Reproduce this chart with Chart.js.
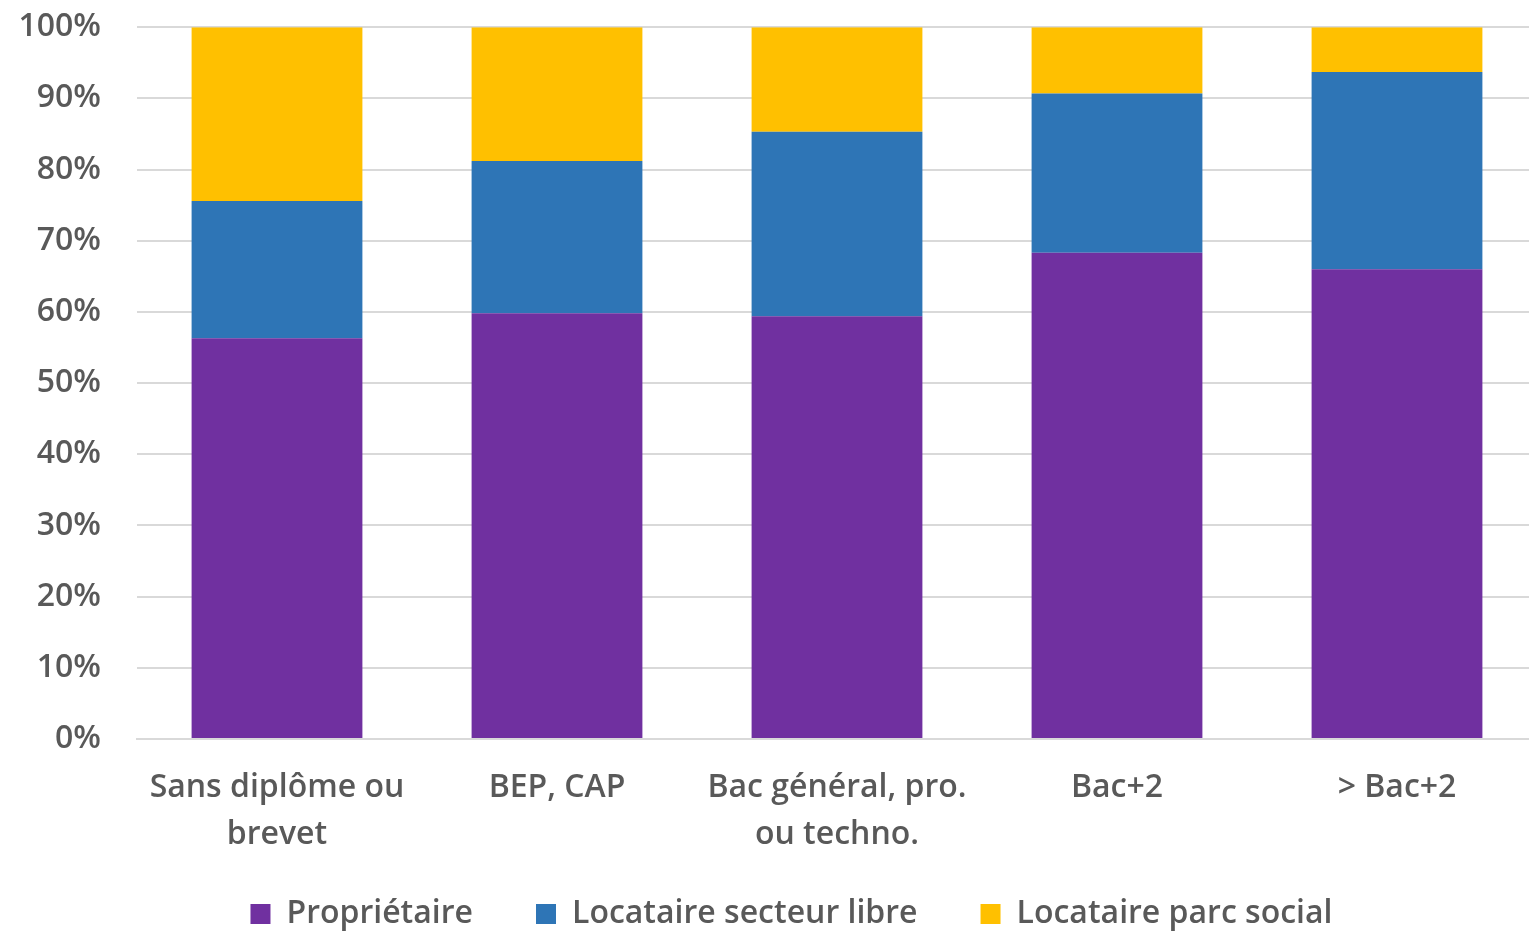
<!DOCTYPE html>
<html>
<head>
<meta charset="utf-8">
<script src="https://cdn.jsdelivr.net/npm/chart.js@4"></script>
<style>
  html, body { margin: 0; padding: 0; background: #fff; overflow: hidden; }
  #wrap { width: 1529px; height: 934px; overflow: hidden; }
  #logementChart { display: block; margin-top: -28px; }
</style>
</head>
<body>
<div id="wrap"><canvas id="logementChart" width="1538" height="968"></canvas></div>
<script>
const categories = [['Sans diplôme ou', 'brevet'], 'BEP, CAP', ['Bac général, pro.', 'ou techno.'], 'Bac+2', '> Bac+2'];
const proprietaire = [56.3, 59.8, 59.4, 68.3, 66.0];
const locataireLibre = [19.3, 21.4, 25.9, 22.4, 27.7];
const locataireSocial = [24.4, 18.8, 14.7, 9.3, 6.3];
const yTicks = [0, 10, 20, 30, 40, 50, 60, 70, 80, 90, 100];

const textColor = '#595959';
const fontFamily = '"Open Sans", Lato, sans-serif';

const ctx = document.getElementById('logementChart').getContext('2d');

// pas de découpe des libellés à la boîte de l'axe
const noLabelClip = (scale) => { scale._computeLabelArea = () => undefined; };

new Chart(ctx, {
    type: 'bar',
    data: {
        labels: categories,
        datasets: [
            { label: 'Propriétaire', data: proprietaire, backgroundColor: '#7030A0' },
            { label: 'Locataire secteur libre', data: locataireLibre, backgroundColor: '#2E75B6' },
            { label: 'Locataire parc social', data: locataireSocial, backgroundColor: '#FFC000' },
        ],
    },
    options: {
        responsive: false,
        animation: false,
        layout: { padding: { top: 0, right: 1, left: 46, bottom: 0 } },
        datasets: {
            bar: { categoryPercentage: 1, barPercentage: 0.61 },
        },
        scales: {
            x: {
                stacked: true,
                grid: { display: false, drawTicks: false },
                border: { color: '#d9d9d9', width: 2 },
                afterFit: (scale) => { scale.height = 96; noLabelClip(scale); },
                ticks: {
                    color: textColor,
                    font: { family: fontFamily, size: 32, weight: '600', lineHeight: 1.45 },
                    padding: 26,
                    maxRotation: 0,
                    autoSkip: false,
                },
            },
            y: {
                stacked: true,
                min: 0,
                max: 100,
                afterFit: (scale) => { scale.width = 91; noLabelClip(scale); },
                afterBuildTicks: (scale) => { scale.ticks = yTicks.map(v => ({ value: v })); },
                grid: { color: '#d9d9d9', lineWidth: 2, drawTicks: false },
                border: { display: false },
                ticks: {
                    color: textColor,
                    font: { family: fontFamily, size: 32, weight: '600' },
                    padding: 36,
                    callback: (v) => v + '%',
                },
            },
        },
        plugins: {
            legend: {
                position: 'bottom',
                labels: {
                    color: textColor,
                    font: { family: fontFamily, size: 32, weight: '600' },
                    boxWidth: 20,
                    boxHeight: 20,
                    padding: 63,
                },
            },
            tooltip: { enabled: false },
        },
    },
});
</script>
</body>
</html>
